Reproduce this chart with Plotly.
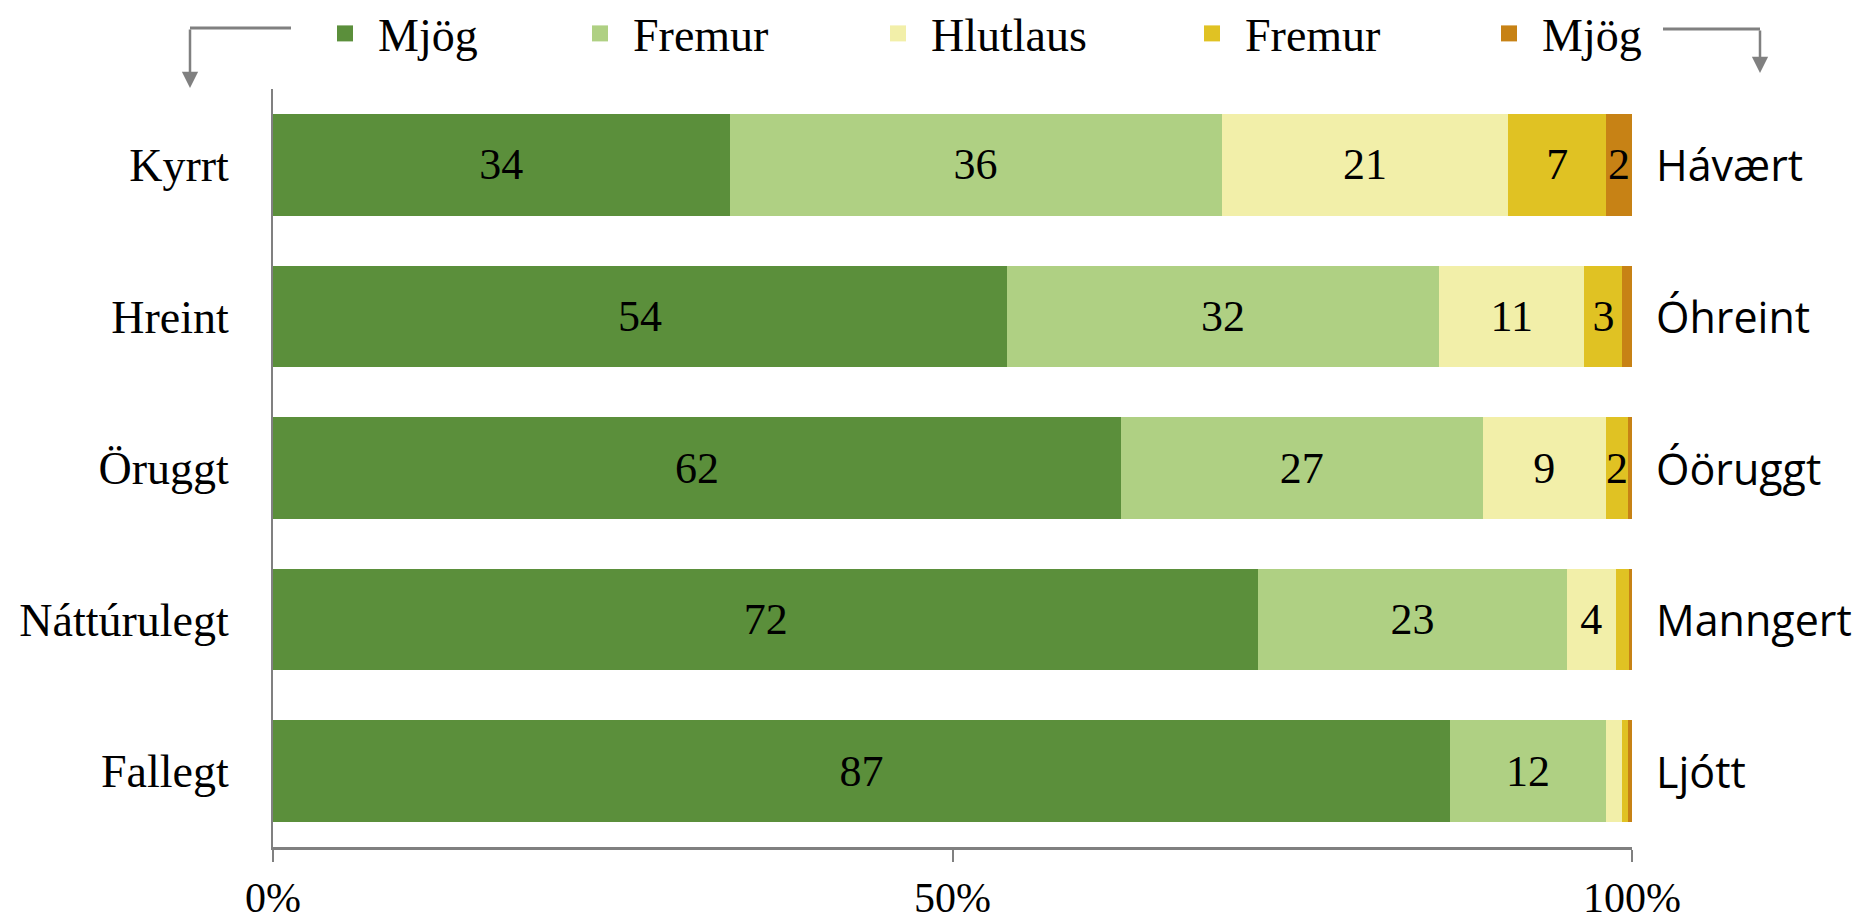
import plotly.graph_objects as go

# ── data ──────────────────────────────────────────────────────────────────────
left_labels = ["Kyrrt", "Hreint", "Öruggt", "Náttúrulegt", "Fallegt"]
right_labels = ["Hávært", "Óhreint", "Óöruggt", "Manngert", "Ljótt"]
series_names = ["Mjög", "Fremur", "Hlutlaus", "Fremur", "Mjög"]

very_pos = [33.6, 54.0, 62.4, 72.5, 86.6]
rather_pos = [36.2, 31.8, 26.6, 22.7, 11.5]
neutral = [21.1, 10.7, 9.1, 3.6, 1.2]
rather_neg = [7.2, 2.8, 1.6, 1.0, 0.4]
very_neg = [1.9, 0.7, 0.3, 0.2, 0.3]

series_values = [very_pos, rather_pos, neutral, rather_neg, very_neg]
COLORS = ["#5B8F3B", "#AFD083", "#F2EFA9", "#E0C223", "#C78215"]
# left edge (screen px) of each legend swatch
LEGEND_X = [342, 597, 895, 1209, 1506]

SERIF = "Liberation Serif, Times New Roman, serif"
SANS = "Open Sans, sans-serif"
GREY = "#808080"

# page body has an 8px margin, so the figure is drawn 8px smaller
OFF = 8
W, H = 1862 - OFF, 921 - OFF
L, R, T, B = 273 - OFF, 230, 89 - OFF, 74
PW, PH = W - L - R, H - T - B


def px_x(px):
    # screen pixel (reference) -> paper x
    return (px - OFF - L) / PW


def px_y(py):
    return (H - B - (py - OFF)) / PH


fig = go.Figure()
legends = {}

for i, (name, vals, col) in enumerate(zip(series_names, series_values, COLORS)):
    lg = "legend" if i == 0 else f"legend{i + 1}"
    fig.add_trace(go.Bar(
        y=left_labels, x=vals, orientation="h",
        marker=dict(color=col, line=dict(width=0)),
        text=[f"{v:.0f}" if v >= 1.5 else "" for v in vals],
        textposition="inside", insidetextanchor="middle",
        textangle=0, constraintext="none",
        textfont=dict(family=SERIF, size=44, color="black"),
        showlegend=False, hoverinfo="x+y",
    ))
    # legend-only entry with a bigger square swatch, one legend per item
    fig.add_trace(go.Scatter(
        x=[None], y=[None], mode="markers", name=name, legend=lg,
        marker=dict(symbol="square", size=16, color=col),
    ))
    legends[lg] = dict(
        orientation="h", itemwidth=56,
        x=px_x(LEGEND_X[i] - 30), xref="paper", xanchor="left",
        y=px_y(-3), yref="paper", yanchor="top",
        font=dict(family=SERIF, size=46, color="black"),
        bgcolor="rgba(0,0,0,0)",
    )

# right-hand (negative pole) labels
for lab, rlab in zip(left_labels, right_labels):
    fig.add_annotation(
        x=1, xref="paper", y=lab, yref="y", text=rlab,
        showarrow=False, xanchor="left", xshift=22,
        font=dict(family=SANS, size=43, color="black"),
    )

# corner arrows
fig.add_shape(type="line", xref="paper", yref="paper",
              x0=px_x(291), x1=px_x(190), y0=px_y(28), y1=px_y(28),
              line=dict(color=GREY, width=3))
fig.add_annotation(x=px_x(190), y=px_y(88), xref="paper", yref="paper",
                   text="", showarrow=True, ax=0, ay=-60,
                   arrowhead=2, arrowsize=1.3, arrowwidth=2.5, arrowcolor=GREY)
fig.add_shape(type="line", xref="paper", yref="paper",
              x0=px_x(1663), x1=px_x(1760), y0=px_y(29), y1=px_y(29),
              line=dict(color=GREY, width=3))
fig.add_annotation(x=px_x(1760), y=px_y(73), xref="paper", yref="paper",
                   text="", showarrow=True, ax=0, ay=-44,
                   arrowhead=2, arrowsize=1.3, arrowwidth=2.5, arrowcolor=GREY)

fig.update_layout(
    width=W, height=H,
    margin=dict(l=L, r=R, t=T, b=B, autoexpand=False),
    barmode="stack", bargap=0.33,
    paper_bgcolor="white", plot_bgcolor="white",
    font=dict(family=SERIF, size=44, color="black"),
    **legends,
)
fig.update_xaxes(
    range=[0, 100], tickvals=[0, 50, 100], ticktext=["0%", "50%", "100%"],
    showgrid=False, zeroline=False,
    showline=True, linecolor=GREY, linewidth=3,
    ticks="outside", ticklen=12, tickwidth=2, tickcolor=GREY,
    ticklabelstandoff=0,
    tickfont=dict(family=SERIF, size=42, color="black"),
)
fig.update_yaxes(
    autorange="reversed", showgrid=False, zeroline=False,
    showline=True, linecolor=GREY, linewidth=2,
    ticks="", ticklabelstandoff=33,
    tickfont=dict(family=SERIF, size=46, color="black"),
)

fig.write_html("out.html")
